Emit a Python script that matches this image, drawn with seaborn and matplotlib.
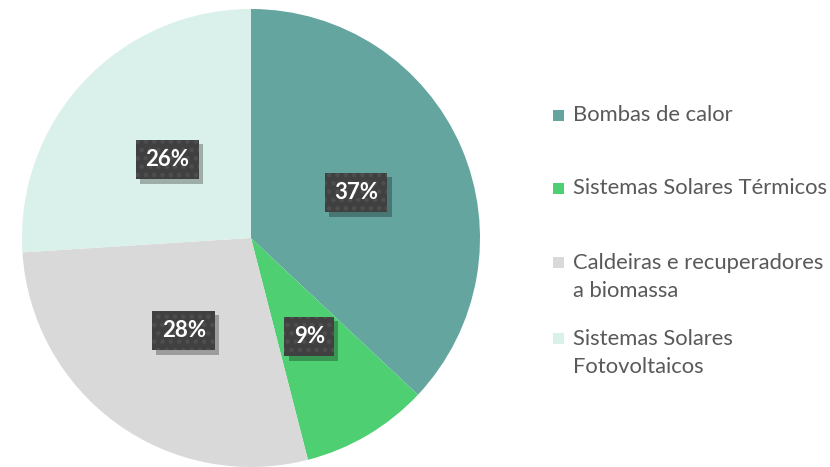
import matplotlib
matplotlib.use("Agg")
import matplotlib.pyplot as plt
import matplotlib.patheffects as pe
from matplotlib.patches import Rectangle
import numpy as np
import seaborn as sns

categories = ["Bombas de calor", "Sistemas Solares Térmicos",
              "Caldeiras e recuperadores\na biomassa", "Sistemas Solares\nFotovoltaicos"]
values = [37, 9, 28, 26]
colors = ["#64A5A0", "#4ECF72", "#D9D9D9", "#DAF0EA"]
legend_y = [115, 188, 277, 353]  # pixel centres (from top) of legend entries

sns.set_theme(style="white")
plt.rcParams['font.family'] = ['Lato', 'DejaVu Sans']
plt.rcParams['hatch.linewidth'] = 2.0


class NoHatchShadow(pe.SimplePatchShadow):
    def draw_path(self, renderer, gc, tpath, affine, rgbFace):
        gc2 = renderer.new_gc()
        gc2.copy_properties(gc)
        gc2.set_hatch(None)
        super().draw_path(renderer, gc2, tpath, affine, rgbFace)
        gc2.restore()


W, H = 830, 467
fig = plt.figure(figsize=(W / 100, H / 100), dpi=100)
R = 229
cx, cy = 251, 238
ax = fig.add_axes([(cx - R) / W, (H - cy - R) / H, 2 * R / W, 2 * R / H])
wedges, texts = ax.pie(values, colors=colors, startangle=90, counterclock=False,
                       radius=1.0, wedgeprops=dict(linewidth=0))
ax.set_xlim(-1, 1)
ax.set_ylim(-1, 1)
ax.set_aspect('equal')
ax.axis('off')

start = 90.0
for v in values:
    ang = np.deg2rad(start - v / 2 * 3.6)
    start -= v * 3.6
    x, y = 0.5 * np.cos(ang), 0.5 * np.sin(ang)
    t = ax.text(x, y, f"{v}%", ha='center', va='center', fontsize=16,
                fontweight='bold', color='white',
                bbox=dict(boxstyle='square,pad=0.42', fc='#404040', ec='#4e4e4e',
                          lw=0, hatch='..'))
    t.get_bbox_patch().set_path_effects([
        NoHatchShadow(offset=(3, -3), shadow_rgbFace='black', alpha=0.28),
        pe.Normal()])

for cat, col, ly in zip(categories, colors, legend_y):
    nlines = cat.count("\n") + 1
    first_y = ly - (nlines - 1) * 15
    fig.patches.append(Rectangle((553 / W, (H - first_y - 5.5) / H), 11 / W, 11 / H,
                                 transform=fig.transFigure, fc=col, ec='none'))
    fig.text(573 / W, (H - ly) / H, cat, ha='left', va='center', fontsize=15.8,
             color='#595959', linespacing=1.5)

fig.savefig("out.png", dpi=100)
